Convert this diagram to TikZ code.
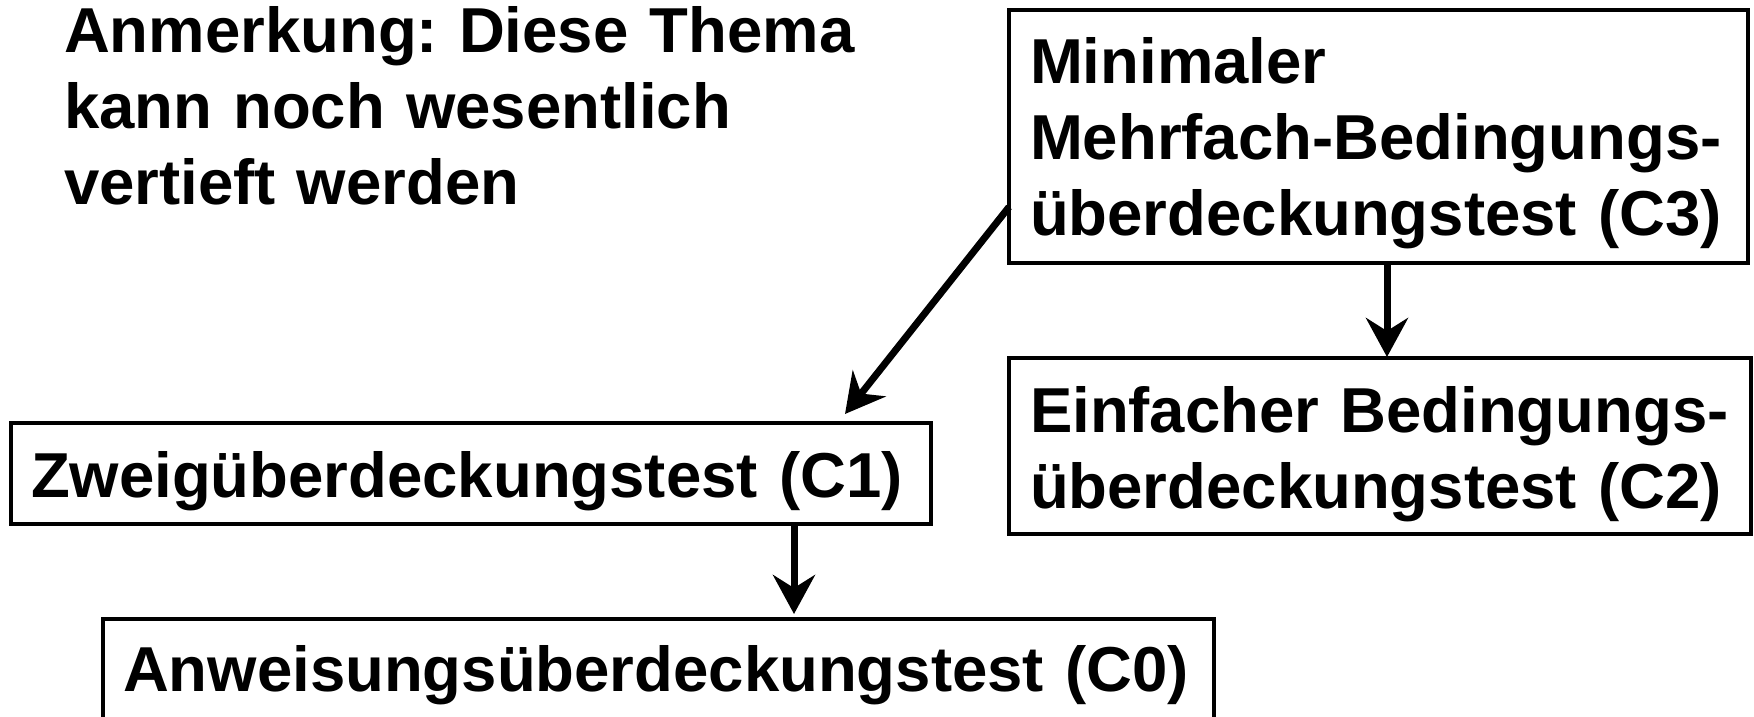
\documentclass[tikz,border=0pt]{standalone}
\usepackage{fontspec}
\setmainfont{Liberation Sans}
\usetikzlibrary{arrows.meta}
\frenchspacing
\begin{document}
\begin{tikzpicture}[x=1pt,y=-1pt,
  every node/.style={font=\fontsize{63.5}{76}\selectfont\bfseries, outer sep=0pt},
  box/.style={draw, line width=3.3pt, anchor=north west, inner ysep=0pt, align=left},
  arr/.style={line width=7pt, -{Stealth[length=39pt,width=42pt,inset=13pt]}}]
\useasboundingbox (0,0) rectangle (1754,717);

% remark in the upper left corner
\node[anchor=base west, inner sep=0pt, text width=820pt, align=left] (note) at (64,53)
  {Anmerkung: Diese Thema\\kann noch wesentlich\\vertieft werden};

% coverage criteria
\node[box, inner xsep=21pt, text width=697pt, text height=74pt, text depth=179pt] (c3) at (1009,10)
  {Minimaler\\Mehrfach-Bedingungs-\\überdeckungstest (C3)};
\node[box, inner xsep=21pt, text width=700pt, text height=74pt, text depth=102pt] (c2) at (1009,358)
  {Einfacher Bedingungs-\\überdeckungstest (C2)};
\node[box, inner xsep=20pt, text width=880pt, text height=74pt, text depth=27pt] (c1) at (11,423)
  {Zweigüberdeckungstest (C1)};
\node[box, inner xsep=20pt, text width=1071pt, text height=72pt, text depth=111pt] (c0) at (103,619)
  {Anweisungsüberdeckungstest (C0)};

% subsumption arrows
\draw[arr] ([xshift=378pt]c3.south west) -- ([xshift=378pt,yshift=1pt]c2.north west);
\draw[arr] ([yshift=-197pt]c3.north west) -- ([xshift=834pt,yshift=9pt]c1.north west);
\draw[arr] ([xshift=783pt]c1.south west) -- ([xshift=691pt,yshift=5pt]c0.north west);
\end{tikzpicture}
\end{document}
